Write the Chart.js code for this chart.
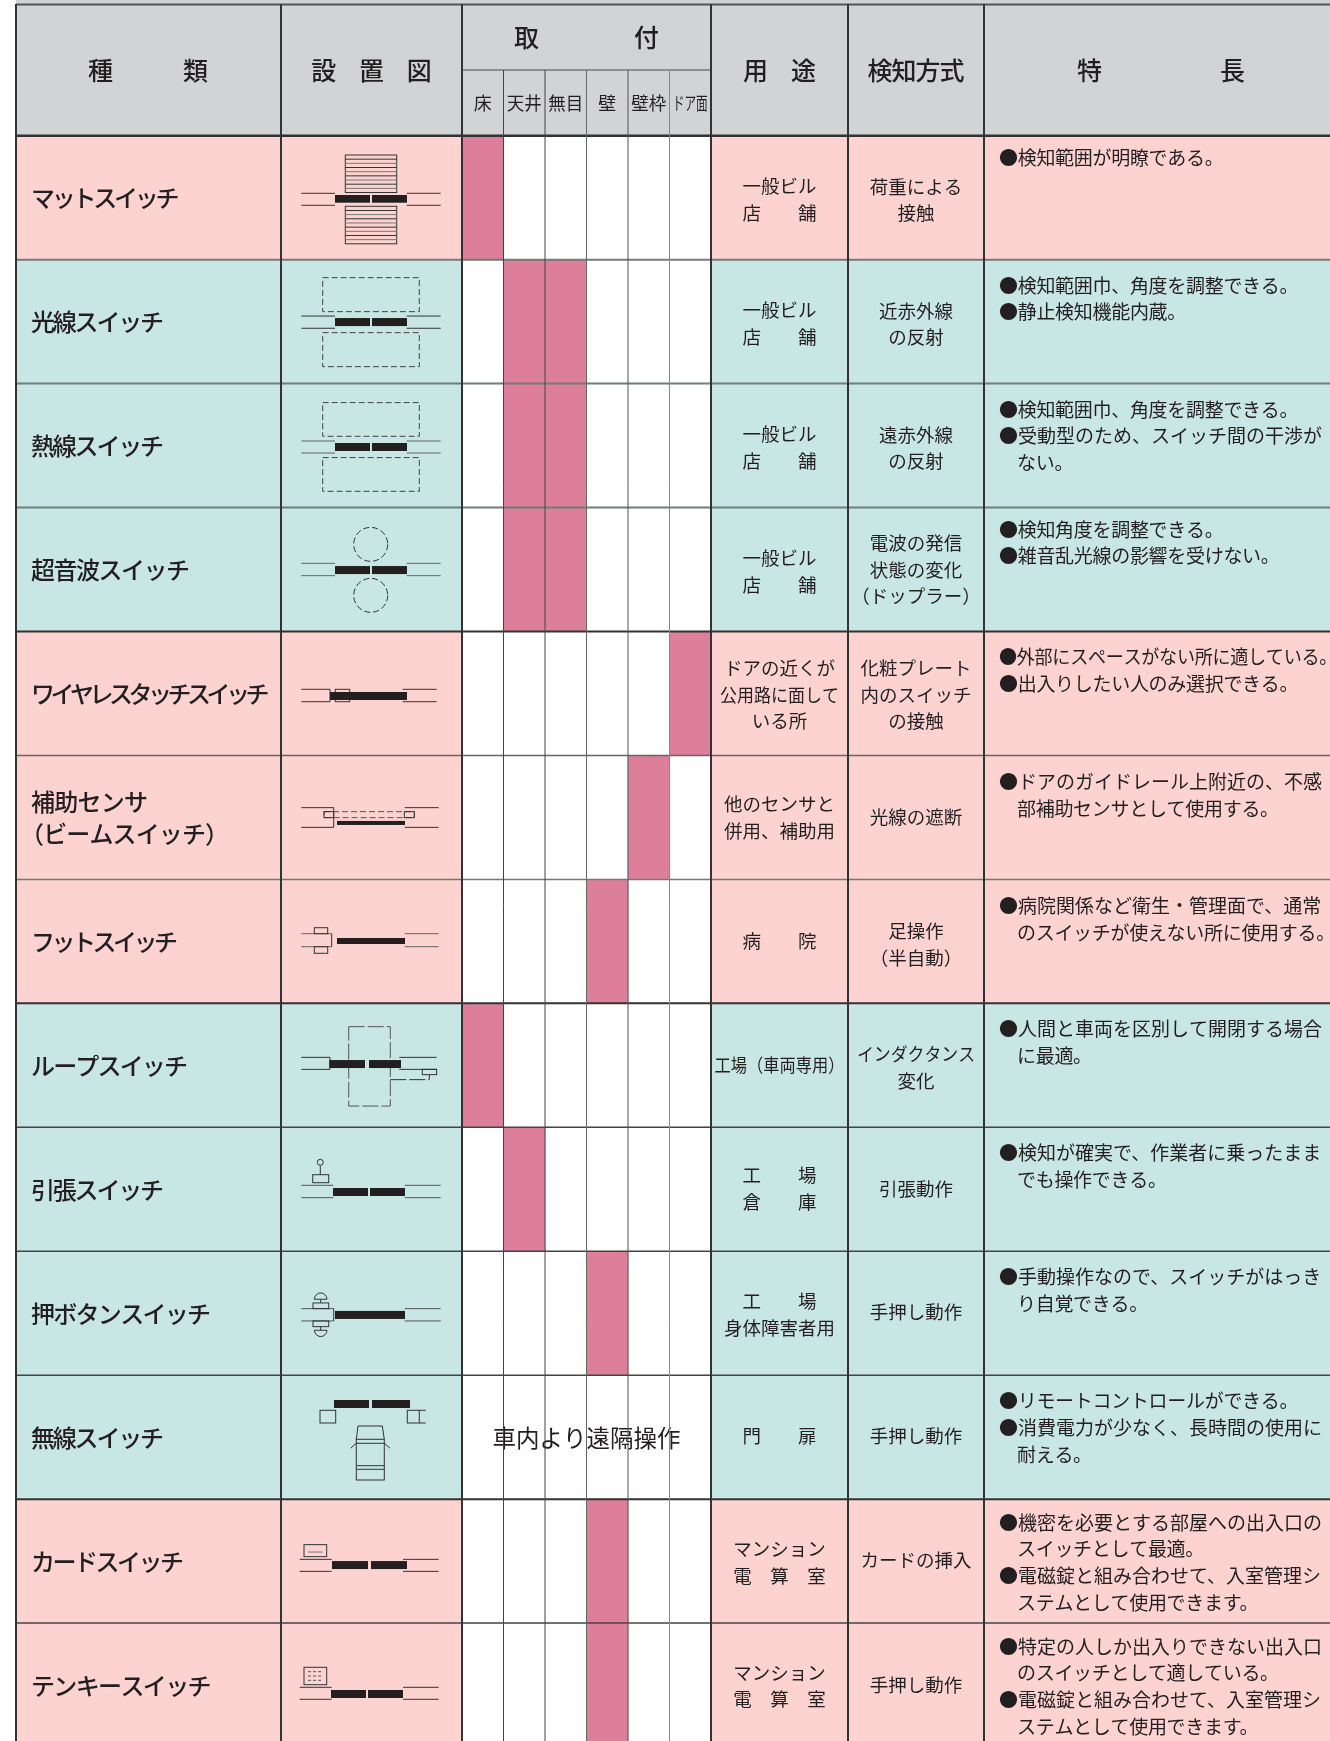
<!DOCTYPE html>
<html lang="ja">
<head>
  <meta charset="UTF-8">
  <title>スイッチの種類</title>
  <style>
    html, body { margin: 0; background: white; }
    canvas { display: block; }
  </style>
</head>
<body>
  <canvas id="chart" width="1330" height="1741"></canvas>

  <script src="https://cdn.jsdelivr.net/npm/chart.js"></script>
  <script>
    // table contents
    const switchNames = ['マットスイッチ', '光線スイッチ', '熱線スイッチ', '超音波スイッチ', 'ワイヤレスタッチスイッチ',
      '補助センサ\n（ビームスイッチ）', 'フットスイッチ', 'ループスイッチ', '引張スイッチ', '押ボタンスイッチ',
      '無線スイッチ', 'カードスイッチ', 'テンキースイッチ'];
    const rowGroups = ['pink', 'teal', 'teal', 'teal', 'pink', 'pink', 'pink', 'teal', 'teal', 'teal', 'teal', 'pink', 'pink'];
    const mountLabels = ['床', '天井', '無目', '壁', '壁枠', 'ドア面'];
    // index into mountLabels for each row
    const mountMarks = [[0], [1, 2], [1, 2], [1, 2], [5], [4], [3], [0], [1], [3], [], [3], [3]];
    const remoteNote = '車内より遠隔操作';
    const remoteRow = 10;
    const usages = [
      ['一般ビル', '店　　舗'], ['一般ビル', '店　　舗'], ['一般ビル', '店　　舗'], ['一般ビル', '店　　舗'],
      ['ドアの近くが', '公用路に面して', 'いる所'], ['他のセンサと', '併用、補助用'], ['病　　院'],
      ['工場（車両専用）'], ['工　　場', '倉　　庫'], ['工　　場', '身体障害者用'], ['門　　扉'],
      ['マンション', '電　算　室'], ['マンション', '電　算　室']
    ];
    const detections = [
      ['荷重による', '接触'], ['近赤外線', 'の反射'], ['遠赤外線', 'の反射'], ['電波の発信', '状態の変化', '（ドップラー）'],
      ['化粧プレート', '内のスイッチ', 'の接触'], ['光線の遮断'], ['足操作', '（半自動）'], ['インダクタンス', '変化'],
      ['引張動作'], ['手押し動作'], ['手押し動作'], ['カードの挿入'], ['手押し動作']
    ];
    const features = [
      ['●検知範囲が明瞭である。'],
      ['●検知範囲巾、角度を調整できる。', '●静止検知機能内蔵。'],
      ['●検知範囲巾、角度を調整できる。', '●受動型のため、スイッチ間の干渉が', 'ない。'],
      ['●検知角度を調整できる。', '●雑音乱光線の影響を受けない。'],
      ['●外部にスペースがない所に適している。', '●出入りしたい人のみ選択できる。'],
      ['●ドアのガイドレール上附近の、不感', '部補助センサとして使用する。'],
      ['●病院関係など衛生・管理面で、通常', 'のスイッチが使えない所に使用する。'],
      ['●人間と車両を区別して開閉する場合', 'に最適。'],
      ['●検知が確実で、作業者に乗ったまま', 'でも操作できる。'],
      ['●手動操作なので、スイッチがはっき', 'り自覚できる。'],
      ['●リモートコントロールができる。', '●消費電力が少なく、長時間の使用に', '耐える。'],
      ['●機密を必要とする部屋への出入口の', 'スイッチとして最適。', '●電磁錠と組み合わせて、入室管理シ', 'ステムとして使用できます。'],
      ['●特定の人しか出入りできない出入口', 'のスイッチとして適している。', '●電磁錠と組み合わせて、入室管理シ', 'ステムとして使用できます。']
    ];

    // layout, x is in canvas units, y is in rows
    const ROW_H = 123.95;
    const HEAD_H = 135.7;
    const colEdges = [16, 281, 462, 503.5, 545, 586.5, 628, 669.5, 711, 848, 984, 1330];
    const rowLineColors = ['#333', '#7a7a7a', '#6f7d7b', '#6f7d7b', '#333', '#666', '#777', '#333', '#444', '#444', '#444', '#333', '#444'];
    const rowLineWidths = [2.5, 2, 2, 2, 2, 1.5, 1.5, 2, 1.5, 1.5, 1.5, 2, 1.5];
    const subLineColors = ['#444', '#444', '#666', '#555', '#888'];
    const nameWidths = [[148.5], [133], [133], [159], [238.5], [117, 209], [147], [157], [133], [180], [133], [153], [180.5]];
    const featureOffsets = [22, 25.8, 25.8, 21.8, 25.4, 26.2, 26.2, 25.8, 25.4, 25.8, 25.8, 23.2, 23.2];
    const usageOffsets = [1.7, 1.7, 1.7, 1.7, 1, 0, 0, 0, -0.5, 1, -1, 1, 1];
    const detectionOffsets = [2.4, 2.4, 2.4, 0, 1, 0, 3.2, 2, 0, -1, -1, -1, 0];
    const fills = { pink: '#fcd3d1', teal: '#c8e6e3', head: '#d1d3d4', mark: '#dd7f9b' };
    const ink = '#231f20';
    const FONT = '"Noto Sans CJK JP", "Noto Sans"';

    const rowCenter = r => r + 0.5;
    const spanRows = (a, b) => switchNames.map((_, r) => ({ y: rowCenter(r), x: [a, b] }));
    const bandColors = rowGroups.map(g => fills[g]);

    const markCells = [];
    mountMarks.forEach((cols, r) => cols.forEach(c => {
      markCells.push({ y: rowCenter(r), x: [colEdges[2 + c], colEdges[3 + c]] });
    }));

    function text(ctx, s, x, y, size, opts = {}) {
      ctx.font = (opts.weight || 400) + ' ' + size + 'px ' + FONT;
      ctx.fillStyle = ink;
      ctx.textAlign = opts.align || 'center';
      ctx.textBaseline = 'middle';
      ctx.letterSpacing = '0px';
      let ls = opts.ls || 0;
      if (opts.fit) ls = (opts.fit - ctx.measureText(s).width) / (s.length - 1);
      ctx.letterSpacing = ls + 'px';
      if (opts.maxW) ctx.fillText(s, x, y, opts.maxW);
      else ctx.fillText(s, x, y);
      ctx.letterSpacing = '0px';
    }

    // two or more wide spaced header glyphs, pitch is glyph to glyph distance
    function spaced(ctx, s, cx, y, size, pitch) {
      const left = cx - (pitch * (s.length - 1) + size) / 2;
      text(ctx, s, left, y, size, { align: 'left', ls: pitch - size, weight: 500 });
    }

    // installation sketches, x in canvas units and y as offset from the row top
    function sketchTools(ctx, xs, top) {
      const X = v => xs.getPixelForValue(v);
      const line = (x1, y1, x2, y2, dash, color) => {
        ctx.setLineDash(dash || []);
        ctx.strokeStyle = color || '#333';
        ctx.beginPath();
        ctx.moveTo(X(x1), top + y1);
        ctx.lineTo(X(x2), top + y2);
        ctx.stroke();
      };
      const box = (x1, y1, x2, y2, dash, color) => {
        ctx.setLineDash(dash || []);
        ctx.strokeStyle = color || '#333';
        ctx.strokeRect(X(x1), top + y1, x2 - x1, y2 - y1);
      };
      const bar = (x1, x2, y1, y2) => {
        ctx.fillStyle = ink;
        ctx.fillRect(X(x1), top + y1, x2 - x1, y2 - y1);
      };
      const arc = (cx, cy, r, a, b, dash) => {
        ctx.setLineDash(dash || []);
        ctx.strokeStyle = '#333';
        ctx.beginPath();
        ctx.arc(X(cx), top + cy, r, a, b);
        ctx.stroke();
      };
      const walls = (y1, y2, a, b, c, d, color) => {
        line(a, y1, b, y1, null, color); line(a, y2, b, y2, null, color);
        line(c, y1, d, y1, null, color); line(c, y2, d, y2, null, color);
      };
      return { line, box, bar, arc, walls };
    }

    const DASH = [6, 3];
    const sketches = [
      g => {
        g.walls(57.6, 69.6, 301.3, 335, 406.7, 440.7);
        g.bar(335, 370, 59.3, 67); g.bar(372, 407, 59.3, 67);
        for (const t of [19.3, 70.6]) {
          g.box(345.3, t, 396.7, t + 37.5);
          for (let k = 1; k < 9; k++) g.line(345.3, t + k * 4.17, 396.7, t + k * 4.17, null, k % 2 ? '#333' : '#777');
        }
      },
      g => {
        g.walls(56.4, 68.6, 301.3, 335, 406.7, 440.7);
        g.bar(335, 370, 58.4, 66.4); g.bar(372, 407, 58.4, 66.4);
        g.box(322.7, 18, 419.3, 52, DASH, '#444'); g.box(322.7, 73, 419.3, 107, DASH, '#444');
      },
      g => {
        g.walls(57.4, 69.4, 301.3, 335, 406.7, 440.7, '#666');
        g.bar(335, 370, 59.4, 67.4); g.bar(372, 407, 59.4, 67.4);
        g.box(322.7, 19, 419.3, 52.7, DASH, '#444'); g.box(322.7, 74, 419.3, 107.7, DASH, '#444');
      },
      g => {
        g.walls(55.8, 68.1, 301.3, 335, 406.7, 440.7, '#666');
        g.bar(335, 370, 58.5, 66.5); g.bar(372, 407, 58.5, 66.5);
        g.arc(370.7, 36.8, 17, 0, Math.PI * 2, DASH); g.arc(370.7, 87.8, 17, 0, Math.PI * 2, DASH);
      },
      g => {
        g.walls(57.8, 70.2, 301.3, 330, 402.7, 436.7);
        g.line(330, 57.8, 330, 70.2);
        g.box(335.3, 57.8, 349.7, 70.2);
        g.bar(330, 407, 60.5, 68.5);
      },
      g => {
        g.walls(52.2, 71.9, 301.3, 333.7, 404.7, 438.7);
        g.line(333.7, 52.2, 333.7, 71.9);
        g.box(324, 56.2, 414.3, 62.2, DASH, '#555');
        g.box(324, 56.2, 333.7, 62.2); g.box(404.3, 56.2, 414.3, 62.2);
        g.bar(337, 405, 65.5, 69.5);
      },
      g => {
        g.walls(54.3, 67.3, 301.3, 331.7, 404.7, 438.7, '#666');
        g.line(331.7, 54.3, 331.7, 67.3);
        g.box(314.3, 48.3, 327.7, 54.3); g.box(314.3, 67.3, 327.7, 73.9);
        g.bar(337, 405, 58.6, 64.6);
      },
      g => {
        g.walls(54, 66, 301.3, 330, 399.3, 436.7);
        g.line(330, 54, 330, 66);
        g.box(348.7, 23.3, 390.3, 102.7, [16, 3], '#555');
        g.bar(329.3, 365, 56.7, 64.7); g.bar(369, 401, 56.7, 64.7);
        g.box(422.3, 66, 436.7, 71.3);
        g.line(390.3, 76.3, 429.3, 76.3, [16, 3]); g.line(429.3, 76.3, 429.3, 71.3);
      },
      g => {
        g.walls(58, 70.4, 301.3, 333.3, 404.7, 440.7, '#555');
        g.bar(333, 368, 60.7, 68.7); g.bar(370, 405, 60.7, 68.7);
        g.box(312.7, 47.4, 328.7, 55.4); g.line(320.3, 38.4, 320.3, 47.4);
        g.arc(320.3, 35, 3, 0, Math.PI * 2);
      },
      g => {
        g.walls(57.4, 69.7, 301.3, 333.7, 404.7, 440.7, '#555');
        g.line(333.7, 57.4, 333.7, 69.7);
        g.bar(335, 405, 59.7, 67.7);
        g.box(313, 51.7, 328.7, 57.4); g.line(320.7, 48, 320.7, 51.7);
        g.arc(320.7, 48, 6.3, Math.PI, Math.PI * 2); g.line(314.4, 48, 327, 48);
        g.box(313, 69.7, 328.7, 75.4); g.line(320.7, 75.4, 320.7, 79);
        g.arc(320.7, 79, 6.3, 0, Math.PI); g.line(314.4, 79, 327, 79);
      },
      g => {
        g.bar(334, 369, 24.8, 32.8); g.bar(372, 410, 24.8, 32.8);
        g.box(320, 35.1, 335.7, 47.8);
        g.box(407.3, 35.1, 419.3, 47.8);
        g.line(419.3, 35.1, 425.7, 35.1); g.line(419.3, 47.8, 425.7, 47.8);
        g.line(358, 50.8, 382.3, 50.8); g.line(358, 50.8, 356.3, 64.1); g.line(382.3, 50.8, 384.3, 64.1);
        g.box(356.3, 64.1, 384.3, 104.8);
        g.line(356.3, 68.1, 384.3, 68.1); g.line(356.3, 90.5, 384.3, 90.5); g.line(356.3, 94.1, 384.3, 94.1);
        g.line(356.3, 68, 350.7, 73); g.line(384.3, 68, 390, 73);
      },
      g => {
        g.walls(60.2, 72.2, 299.7, 331.7, 403, 438.7);
        g.bar(332, 368, 61.9, 69.9); g.bar(371, 407, 61.9, 69.9);
        g.box(304, 45.5, 326.7, 57.5); g.line(308, 52.9, 322.7, 52.9, null, '#777');
      },
      g => {
        g.walls(64.2, 76.2, 299.7, 331.7, 403, 438.7);
        g.bar(331, 366, 66.9, 74.9); g.bar(368, 403, 66.9, 74.9);
        g.box(304, 44.2, 326.7, 61.6);
        for (const t of [48.6, 52.9, 57.2]) g.line(308, t, 323, t, [3, 2], '#555');
      }
    ];

    const tablePlugin = {
      id: 'tableText',
      afterDatasetsDraw(chart) {
        const { ctx, scales: { x, y } } = chart;
        const rowTop = r => y.getPixelForValue(r);
        const rowMid = r => y.getPixelForValue(rowCenter(r));
        const colMid = (a, b) => (x.getPixelForValue(a) + x.getPixelForValue(b)) / 2;
        ctx.save();

        // header
        spaced(ctx, '種類', 148, 70, 25, 95);
        spaced(ctx, '設置図', 371.5, 70, 25, 47.7);
        spaced(ctx, '取付', 586.5, 37.5, 25, 120);
        spaced(ctx, '用途', 779.5, 70, 25, 48);
        text(ctx, '検知方式', 915.5, 70, 25, { weight: 500, ls: -1 });
        spaced(ctx, '特長', 1161, 70, 25, 143);
        mountLabels.forEach((m, i) => {
          text(ctx, m, colMid(colEdges[2 + i], colEdges[3 + i]), 103, 18, { maxW: 35 });
        });

        // body text
        switchNames.forEach((name, r) => {
          const lines = name.split('\n');
          lines.forEach((s, k) => {
            const left = s[0] === '（' ? 20 : 31;
            text(ctx, s, x.getPixelForValue(left), rowMid(r) + 0.3 + (k - (lines.length - 1) / 2) * 32, 24,
              { align: 'left', weight: 500, fit: nameWidths[r][k] });
          });
          usages[r].forEach((s, k) => {
            const opts = s[0] === '工' && s.length > 4 ? { maxW: 130 } : { maxW: 119 };
            text(ctx, s, colMid(711, 848), rowMid(r) + usageOffsets[r] + (k - (usages[r].length - 1) / 2) * 26.7, 18.5, opts);
          });
          detections[r].forEach((s, k) => {
            const opts = s[0] === '（' ? {} : { maxW: 118 };
            text(ctx, s, colMid(848, 984), rowMid(r) + detectionOffsets[r] + (k - (detections[r].length - 1) / 2) * 26.7, 18.5, opts);
          });
          features[r].forEach((s, k) => {
            const left = s[0] === '●' ? 999 : 1017;
            text(ctx, s, x.getPixelForValue(left), rowTop(r) + featureOffsets[r] + k * 26.7, 19,
              { align: 'left', ls: s.endsWith('。') ? -0.3 : 0, maxW: 338 });
          });
        });
        text(ctx, remoteNote, colMid(colEdges[2], colEdges[8]), rowMid(remoteRow) + 1, 23.5);

        // installation sketches
        ctx.lineWidth = 1;
        sketches.forEach((draw, r) => draw(sketchTools(ctx, x, rowTop(r))));
        ctx.setLineDash([]);

        // rules
        const hLine = (y0, a, b, color, w) => {
          ctx.strokeStyle = color; ctx.lineWidth = w;
          ctx.beginPath();
          ctx.moveTo(x.getPixelForValue(a), y0);
          ctx.lineTo(x.getPixelForValue(b), y0);
          ctx.stroke();
        };
        const vLine = (v, y0, color, w) => {
          ctx.strokeStyle = color; ctx.lineWidth = w;
          ctx.beginPath();
          ctx.moveTo(x.getPixelForValue(v), y0);
          ctx.lineTo(x.getPixelForValue(v), chart.height);
          ctx.stroke();
        };
        hLine(4.5, colEdges[0], 1330, '#555', 2);
        hLine(70, colEdges[2], colEdges[8], '#777', 1.5);
        rowLineColors.forEach((c, r) => hLine(rowTop(r), colEdges[0], 1330, c, rowLineWidths[r]));
        subLineColors.forEach((c, i) => vLine(colEdges[3 + i], 70, c, 1));
        [0, 1, 2, 8, 9, 10].forEach(i => vLine(colEdges[i], 4, '#333', 2));

        ctx.restore();
      }
    };

    new Chart(document.getElementById('chart'), {
      type: 'bar',
      data: {
        datasets: [
          { label: 'head', data: [{ y: -HEAD_H / ROW_H / 2 , x: [16, 1330] }], backgroundColor: fills.head, barThickness: HEAD_H },
          { label: 'left', data: spanRows(16, 462), backgroundColor: bandColors, barThickness: ROW_H },
          { label: 'right', data: spanRows(711, 1330), backgroundColor: bandColors, barThickness: ROW_H },
          { label: 'marks', data: markCells, backgroundColor: fills.mark, barThickness: ROW_H }
        ]
      },
      options: {
        indexAxis: 'y',
        responsive: false,
        animation: false,
        grouped: false,
        layout: { padding: 0 },
        plugins: { legend: { display: false }, tooltip: { enabled: false } },
        scales: {
          x: { type: 'linear', min: 0, max: 1330, display: false },
          y: {
            type: 'linear',
            reverse: true,
            offset: false,
            min: -HEAD_H / ROW_H,
            max: (1741 - HEAD_H) / ROW_H,
            display: false
          }
        }
      },
      plugins: [tablePlugin]
    });
  </script>
</body>
</html>
